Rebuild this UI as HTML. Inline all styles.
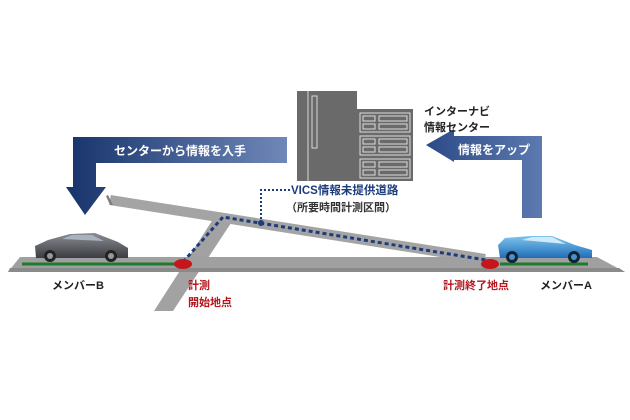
<!DOCTYPE html>
<html><head><meta charset="utf-8"><style>
html,body{margin:0;padding:0;background:#fff;}
svg{display:block;}
text{font-family:"Liberation Sans","Noto Sans CJK JP",sans-serif;font-weight:bold;}
</style></head><body>
<svg width="630" height="420" viewBox="0 0 630 420" xmlns="http://www.w3.org/2000/svg">
<defs>
<linearGradient id="gl" x1="0" x2="1" y1="0" y2="0"><stop offset="0" stop-color="#17336b"/><stop offset="1" stop-color="#6f88b8"/></linearGradient>
<linearGradient id="gr" x1="0" x2="1" y1="0" y2="0"><stop offset="0" stop-color="#2c4a86"/><stop offset="1" stop-color="#5c7ab0"/></linearGradient>
<linearGradient id="cb" x1="0" x2="0" y1="0" y2="1"><stop offset="0" stop-color="#8a8d92"/><stop offset="1" stop-color="#3b3d42"/></linearGradient>
<linearGradient id="ca" x1="0" x2="0" y1="0" y2="1"><stop offset="0" stop-color="#7fc4ee"/><stop offset="1" stop-color="#1f6eb8"/></linearGradient>
</defs>
<!-- server -->
<rect x="297" y="91" width="60" height="90" fill="#6a6a6a"/>
<line x1="308" y1="91" x2="308" y2="181" stroke="#d8d8d8" stroke-width="1"/>
<rect x="312" y="96" width="5" height="52" fill="none" stroke="#d8d8d8" stroke-width="1"/>
<rect x="357" y="109" width="56" height="72" fill="#6a6a6a"/>
<g fill="none" stroke="#dcdcdc" stroke-width="1">
<rect x="360" y="113" width="50" height="19"/><rect x="360" y="136" width="50" height="19"/><rect x="360" y="159" width="50" height="19"/>
<rect x="363" y="116" width="12" height="5"/><rect x="363" y="124" width="12" height="5"/><rect x="379" y="116" width="28" height="5"/><rect x="379" y="124" width="28" height="5"/>
<rect x="363" y="139" width="12" height="5"/><rect x="363" y="147" width="12" height="5"/><rect x="379" y="139" width="28" height="5"/><rect x="379" y="147" width="28" height="5"/>
<rect x="363" y="162" width="12" height="5"/><rect x="363" y="170" width="12" height="5"/><rect x="379" y="162" width="28" height="5"/><rect x="379" y="170" width="28" height="5"/>
</g>
<!-- left arrow -->
<path d="M73 137 H287 V163 H96 V187 H106 L85 215 L66 187 H73 Z" fill="url(#gl)"/>
<text x="180" y="155" fill="#fff" font-size="12" text-anchor="middle">センターから情報を入手</text>
<!-- right arrow -->
<path d="M542 218 V136 H454 V129 L426 145 L454 162 V160 H522 V218 Z" fill="url(#gr)"/>
<text x="458" y="154" fill="#fff" font-size="12">情報をアップ</text>
<text x="424" y="115" fill="#222" font-size="11">インターナビ</text>
<text x="424" y="131" fill="#222" font-size="11">情報センター</text>
<!-- roads -->
<path d="M217 213 L235 217 L173 311 L154 311 Z" fill="#a2a2a2"/>
<line x1="110" y1="200" x2="485" y2="259" stroke="#a4a4a4" stroke-width="10"/>
<path d="M108 195 L113 205 L110 205 L106 196 Z" fill="#7e7e7e"/>
<path d="M20 257 L597 257 L625 272 L8 272 Z" fill="#a0a0a0"/>
<path d="M10 268 L619 268 L625 272 L8 272 Z" fill="#8a8a8a"/>
<line x1="22" y1="264" x2="177" y2="264" stroke="#1e7a2c" stroke-width="3"/>
<line x1="500" y1="264" x2="588" y2="264" stroke="#1e7a2c" stroke-width="3"/>
<!-- dashed route -->
<polyline points="183,262 223,217 486,260" fill="none" stroke="#1d3c7c" stroke-width="3" stroke-dasharray="4,3"/>
<polyline points="261,223 261,190 290,190" fill="none" stroke="#1d3c7c" stroke-width="2" stroke-dasharray="2,2"/>
<circle cx="261" cy="223" r="3" fill="#1d3c7c"/>
<ellipse cx="183" cy="264" rx="9" ry="5" fill="#c4161c"/>
<ellipse cx="490" cy="264" rx="9" ry="5" fill="#c4161c"/>
<text x="291" y="194" fill="#1d3c7c" font-size="11.5">VICS情報未提供道路</text>
<text x="286" y="211" fill="#333" font-size="11">（所要時間計測区間）</text>
<!-- cars -->
<g>
<path d="M36 258 L35 246 L48 240 L70 234 L95 233 L118 242 L128 248 L128 258 Z" fill="url(#cb)"/>
<path d="M62 239 L72 235 L92 235 L104 241 Z" fill="#a9b3c0"/>
<circle cx="50" cy="256" r="6" fill="#222"/><circle cx="50" cy="256" r="3" fill="#999"/>
<circle cx="111" cy="256" r="6" fill="#222"/><circle cx="111" cy="256" r="3" fill="#999"/>
</g>
<g>
<path d="M500 258 L498 245 L505 238 L530 236 L552 236 L575 245 L592 250 L592 258 Z" fill="url(#ca)"/>
<path d="M522 240 L532 237 L552 237 L566 244 Z" fill="#cfeaf8"/>
<circle cx="512" cy="257" r="6" fill="#123"/><circle cx="512" cy="257" r="3" fill="#4a8fd0"/>
<circle cx="574" cy="257" r="6" fill="#123"/><circle cx="574" cy="257" r="3" fill="#4a8fd0"/>
</g>
<!-- labels -->
<text x="52" y="289" fill="#222" font-size="11">メンバーB</text>
<text x="188" y="289" fill="#b3161c" font-size="11">計測</text>
<text x="188" y="306" fill="#b3161c" font-size="11">開始地点</text>
<text x="443" y="289" fill="#b3161c" font-size="11">計測終了地点</text>
<text x="540" y="289" fill="#222" font-size="11">メンバーA</text>
</svg>
</body></html>
